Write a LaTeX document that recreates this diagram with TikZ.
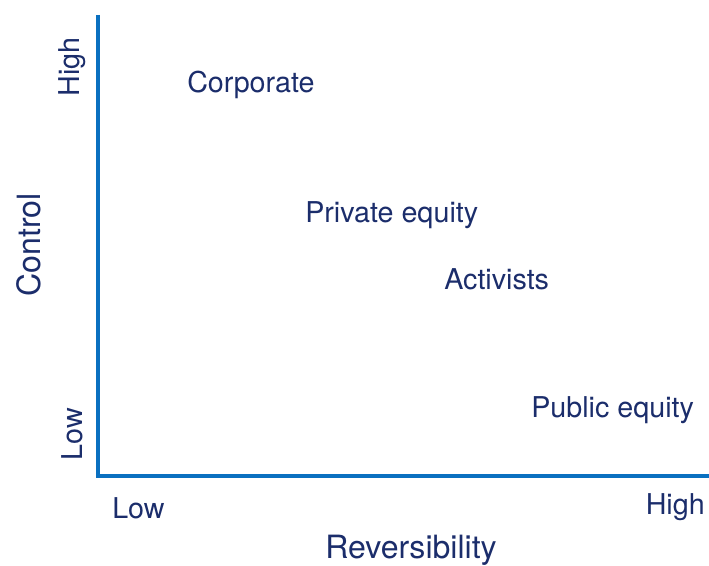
\documentclass[tikz,border=0pt]{standalone}
\usepackage{fontspec}
\setmainfont{TeX Gyre Heros}
\usepackage{tikz}
\definecolor{axisblue}{HTML}{0A70C0}
\definecolor{navy}{HTML}{1B2D6B}
\tikzset{
  lbl/.style={text=navy, font=\fontsize{20.4}{24}\selectfont, inner sep=0pt},
  title/.style={lbl, font=\fontsize{22.8}{27}\selectfont},
  axis/.style={axisblue, line width=2.6pt}
}
\begin{document}
\begin{tikzpicture}[x=0.025cm,y=-0.025cm]
\useasboundingbox (0,0) rectangle (709,565);
\coordinate (origin) at (98,476);
\coordinate (ytop) at (98,15);
\coordinate (xend) at (709,476);
\draw[axis] (ytop) -- (origin) -- (xend);
% axis labels
\node[title, rotate=90] (ctrl) at (29,245) {Control};
\node[lbl, rotate=90] (yhigh) at (72,67) {High};
\node[lbl, rotate=90] (ylow) at (72,434) {Low};
\node[lbl, anchor=west] (xlow) at (112,508) {Low};
\node[lbl, anchor=east] (xhigh) at (705,507) {High};
\node[title] (rev) at (411,550) {Reversibility};
% investors
\node[lbl, anchor=west] (corp) at (187,85) {Corporate};
\node[lbl, anchor=west] (pe) at (305,215) {Private equity};
\node[lbl, anchor=west] (act) at (444,279) {Activists};
\node[lbl, anchor=west] (pub) at (531,410) {Public equity};
\end{tikzpicture}
\end{document}
